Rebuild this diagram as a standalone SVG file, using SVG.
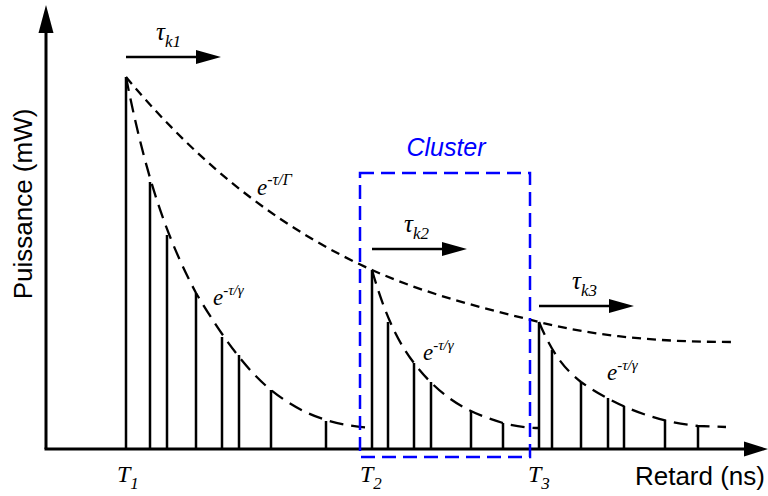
<svg xmlns="http://www.w3.org/2000/svg" width="768" height="496" viewBox="0 0 768 496">
<style>
.ax{stroke:#000;stroke-width:3;fill:none}
.stem{stroke:#000;stroke-width:2.5;fill:none}
.arr{stroke:#000;stroke-width:2.5;fill:none}
.big{stroke:#000;stroke-width:2.3;fill:none;stroke-dasharray:9 6}
.small{stroke:#000;stroke-width:2.3;fill:none;stroke-dasharray:14 8}
.box{stroke:#0000ff;stroke-width:2.5;fill:none;stroke-dasharray:14 7}
.lab{font-family:"Liberation Sans",Arial,sans-serif;font-size:26px;fill:#000}
.m{font-family:"Liberation Serif","Times New Roman",serif;font-style:italic;font-size:23px;fill:#000}
.t{font-family:"Liberation Serif","Times New Roman",serif;font-style:italic;font-size:25px;fill:#000}
.mt{font-family:"Liberation Serif","Times New Roman",serif;font-style:italic;font-size:24px;fill:#000}
.sub{font-size:17px}
.sup{font-size:15px}
.supG{font-size:16px}
</style>
<defs>
<marker id="ah" markerUnits="userSpaceOnUse" markerWidth="26" markerHeight="16" refX="0" refY="7" orient="auto">
<path d="M0,0 L25,7 L0,14 Z" fill="#000"/>
</marker>
</defs>
<g id="axes">
<line class="ax" x1="46" y1="449" x2="46" y2="32"/>
<polygon points="46,5 38.5,33 53.5,33" fill="#000"/>
<line class="ax" x1="44.5" y1="449" x2="745" y2="449"/>
<polygon points="768,449 744,441.5 744,456.5" fill="#000"/>
<text class="lab" transform="translate(32,204) rotate(-90)" text-anchor="middle">Puissance (mW)</text>
<text class="lab" x="765" y="485" text-anchor="end">Retard (ns)</text>
</g>
<g id="stems">
<path class="stem" d="M126,449V77 M150,449V182 M167,449V235 M196,449V293 M222,449V337 M239,449V355 M271,449V390 M326,449V421"/>
<path class="stem" d="M372,449V270 M388,449V322 M414,449V363 M431,449V382 M471,449V412 M503,449V423"/>
<path class="stem" d="M539,449V322 M552,449V350 M581,449V382 M608,449V398 M624,449V406 M665,449V420 M698,449V426"/>
</g>
<g id="connectors">
<path class="big" d="M126,77 C208,175 290,233 372,270 C428,295 483,308 539,322 C603,338 668,342 734,342"/>
<path class="small" d="M126,77 C149,194 173,249 196,293 C221,335 246,370 271,390 C301,414 330,425 372,428"/>
<path class="small" d="M372,270 C386,319 400,345 414,363 C444,402 473,414 503,423 C515,426 527,428 539,428"/>
<path class="small" d="M539,322 C553,356 567,371 581,382 C620,409 659,422 698,426 L726,427"/>
<line class="arr" x1="126" y1="57" x2="196" y2="57" marker-end="url(#ah)"/>
<line class="arr" x1="372" y1="249" x2="442" y2="249" marker-end="url(#ah)"/>
<line class="arr" x1="539" y1="306" x2="609" y2="306" marker-end="url(#ah)"/>
</g>
<g id="cluster">
<rect class="box" x="360" y="173" width="170" height="284"/>
<text x="446" y="156" text-anchor="middle" style="font-family:'Liberation Sans',Arial,sans-serif;font-style:italic;font-size:25px;fill:#0000ff">Cluster</text>
</g>
<g id="labels">
<text class="t" x="156" y="40">τ<tspan class="sub" dy="7">k1</tspan></text>
<text class="t" x="404" y="232">τ<tspan class="sub" dy="7">k2</tspan></text>
<text class="t" x="572" y="289">τ<tspan class="sub" dy="7">k3</tspan></text>
<text class="m" x="257" y="195">e<tspan class="supG" dy="-10">-τ/Γ</tspan></text>
<text class="m" x="213" y="305">e<tspan class="sup" dy="-10">-τ/γ</tspan></text>
<text class="m" x="423" y="360">e<tspan class="sup" dy="-10">-τ/γ</tspan></text>
<text class="m" x="607" y="380">e<tspan class="sup" dy="-10">-τ/γ</tspan></text>
<text class="mt" x="117" y="482">T<tspan class="sub" dy="7">1</tspan></text>
<text class="mt" x="360" y="482">T<tspan class="sub" dy="7">2</tspan></text>
<text class="mt" x="528" y="482">T<tspan class="sub" dy="7">3</tspan></text>
</g>
</svg>
